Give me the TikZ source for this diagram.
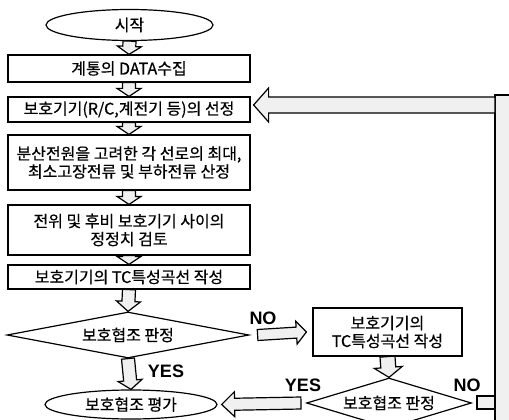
\documentclass[tikz,border=0pt]{standalone}
\usepackage{fontspec}
\setmainfont{Noto Sans CJK KR}[FakeBold=0.5]
\newfontfamily\labelfont{Liberation Sans}
\usetikzlibrary{calc,shapes.geometric}

\tikzset{
  box/.style={draw, line width=1.2pt, minimum width=242pt, inner sep=0pt,
    align=center, font=\fontsize{16}{18}\selectfont},
  term/.style={box, ellipse},
  decision/.style={box, diamond, aspect=5},
  blockarrow/.style={draw, fill=black!6, line width=1.2pt, line join=miter},
  yesno/.style={inner sep=0pt, font=\labelfont\bfseries\fontsize{18}{18}\selectfont}
}

% hollow block arrow: start, end, half shaft, half head, head length
\newcommand{\blockarrow}[5]{%
  \coordinate (ba-s) at (#1);
  \coordinate (ba-e) at (#2);
  \coordinate (ba-h) at ($(ba-e)!#5!(ba-s)$);
  \path[blockarrow] ($(ba-s)!#3!90:(ba-e)$) -- ($(ba-h)!#3!-90:(ba-s)$)
    -- ($(ba-h)!#4!-90:(ba-s)$) -- (ba-e) -- ($(ba-h)!#4!90:(ba-s)$)
    -- ($(ba-h)!#3!90:(ba-s)$) -- ($(ba-s)!#3!-90:(ba-e)$) -- cycle;}

\begin{document}
\begin{tikzpicture}[x=1pt, y=-1pt]
  \useasboundingbox (0,0) rectangle (509,420);
  \clip (0,0) rectangle (509,420);
  % coordinates
  \coordinate (fb) at (495,105); % feedback band
  % main column
  \node[term, minimum width=167pt, minimum height=31pt] (start) at (129.5,25) {시작};
  \node[box, minimum height=27pt] (data) at (129,68.5) {계통의 DATA수집};
  \node[box, minimum height=25pt] (select) at (129,109.5) {보호기기(R/C,계전기 등)의 선정};
  \node[box, minimum height=55pt] (calc) at (129,162.5)
    {분산전원을 고려한 각 선로의 최대,\\최소고장전류 및 부하전류 산정};
  \node[box, minimum height=50pt] (review) at (129,230) {전위 및 후비 보호기기 사이의\\정정치 검토};
  \node[box, minimum height=24pt] (tc) at (129,277) {보호기기의 TC특성곡선 작성};
  \node[decision, minimum width=242pt, minimum height=46pt] (dec1) at (128,335) {보호협조 판정};
  \node[term, minimum width=172pt, minimum height=29pt] (eval) at (131,404.5) {보호협조 평가};
  % side column
  \node[box, minimum width=149pt, minimum height=48pt] (tc2) at (387.5,332) {보호기기의\\TC특성곡선 작성};
  \node[decision, minimum width=162pt, minimum height=50pt] (dec2) at (389,403) {보호협조 판정};
  % labels
  \node[yesno] (no1) at (263,318) {NO};
  \node[yesno] (yes1) at (166,371) {YES};
  \node[yesno] (yes2) at (303,385) {YES};
  \node[yesno] (no2) at (467,385) {NO};
  % down arrows
  \foreach \a/\b in {start/data, data/select, select/calc, calc/review, review/tc}
    \blockarrow{\a.south}{\b.north}{6.5pt}{12pt}{8pt};
  \blockarrow{tc.south}{dec1.north}{6.5pt}{12pt}{10pt}
  \blockarrow{dec1.south}{eval.north}{6.5pt}{12pt}{9pt}
  \blockarrow{tc2.south}{dec2.north}{7.5pt}{14pt}{10pt}
  % side arrows
  \blockarrow{$(dec1.east)+(8,0)$}{$(tc2.west)+(-6,0)$}{5.5pt}{11.5pt}{10pt}
  \blockarrow{$(dec2.west)+(-5,0)$}{$(eval.east)+(4,0)$}{6pt}{12.5pt}{13pt}
  % feedback
  \path[blockarrow] (495,95) rectangle (530,440);
  \path[blockarrow] ($(dec2.east)+(5,-7)$) rectangle ($(dec2.east -| fb)+(0,6)$);
  \blockarrow{fb}{$(select.east |- fb)+(3,0)$}{8pt}{17pt}{15pt}
\end{tikzpicture}
\end{document}
